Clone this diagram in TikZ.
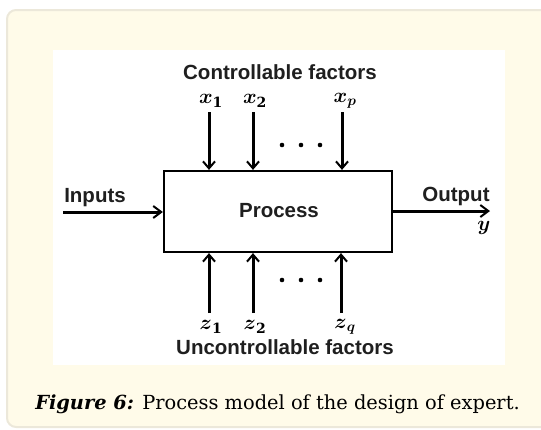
\documentclass[tikz,border=0pt]{standalone}
\usepackage{amsmath,amsbsy}
\usepackage{fontspec}
\setmainfont{DejaVu Serif}
\newfontfamily\diagfont{Liberation Sans}
\usetikzlibrary{arrows.meta}
\definecolor{cream}{RGB}{255,251,233}
\definecolor{creamedge}{RGB}{236,232,218}
\tikzset{
  panel/.style={fill=cream,draw=creamedge,line width=2pt,rounded corners=9pt},
  procbox/.style={draw=black,line width=2.2pt,minimum width=228pt,minimum height=81pt,inner sep=0pt},
  lbl/.style={font=\diagfont\bfseries\fontsize{20.5}{20.5}\selectfont,text=black!88,inner sep=0pt},
  var/.style={inner sep=0pt,font=\fontsize{20}{20}\selectfont},
  factor/.style={line width=3pt,-{Straight Barb[length=7pt,width=12pt,line width=2pt]}},
  flow/.style={line width=3pt,-{Straight Barb[length=8pt,width=12pt,line width=2pt]}},
  dotmark/.style={fill=black,radius=2.3pt}
}
\begin{document}
\begin{tikzpicture}[x=1pt,y=-1pt]
\useasboundingbox (0,0) rectangle (541,429);
\begin{scope}
\clip (0,0) rectangle (541,429);
\draw[panel] (7,10) rectangle (600,427);
\end{scope}
\fill[white] (53,50) rectangle (505,365);

\node[procbox] (proc) at (278,211.5) {};
\node[lbl] (ptxt) at (279,211) {Process};

\node[lbl] (ctitle) at (280,72) {Controllable factors};
\node[lbl] (utitle) at (285,347) {Uncontrollable factors};

% top factors
\coordinate (t1) at (209,112);
\coordinate (t2) at (253,112);
\coordinate (tp) at (342,112);
\node[var] (x1) at (211,101) {$\boldsymbol{x}_{\mathbf 1}$};
\node[var] (x2) at (255,101) {$\boldsymbol{x}_{\mathbf 2}$};
\node[var] (xp) at (345,101) {$\boldsymbol{x}_{\boldsymbol p}$};
\draw[factor] (t1) -- (t1 |- proc.north);
\draw[factor] (t2) -- (t2 |- proc.north);
\draw[factor] (tp) -- (tp |- proc.north);
\fill[dotmark] (282,145) circle;
\fill[dotmark] (301,145) circle;
\fill[dotmark] (320,145) circle;

% bottom factors
\coordinate (b1) at (209,313);
\coordinate (b2) at (253,313);
\coordinate (bq) at (341,313);
\node[var] (z1) at (211,327) {$\boldsymbol{z}_{\mathbf 1}$};
\node[var] (z2) at (255,327) {$\boldsymbol{z}_{\mathbf 2}$};
\node[var] (zq) at (345,327) {$\boldsymbol{z}_{\boldsymbol q}$};
\draw[factor] (b1) -- (b1 |- proc.south);
\draw[factor] (b2) -- (b2 |- proc.south);
\draw[factor] (bq) -- (bq |- proc.south);
\fill[dotmark] (282,280) circle;
\fill[dotmark] (301,280) circle;
\fill[dotmark] (320,280) circle;

% input / output
\node[lbl] (inlbl) at (95,198) {Inputs};
\coordinate (instart) at (63,212);
\draw[flow] (instart) -- (instart -| proc.west);
\node[lbl] (outlbl) at (456,196) {Output};
\coordinate (outend) at (490,211);
\draw[flow] (outend -| proc.east) -- (outend);
\node[var] (ylbl) at (484,228) {$\boldsymbol{y}$};

% caption
\node[inner sep=0pt,anchor=base,font=\fontsize{19.4}{19.4}\selectfont] (cap) at (277.5,409)
  {\textbf{\textit{Figure 6:}} Process model of the design of expert.};
\end{tikzpicture}
\end{document}
